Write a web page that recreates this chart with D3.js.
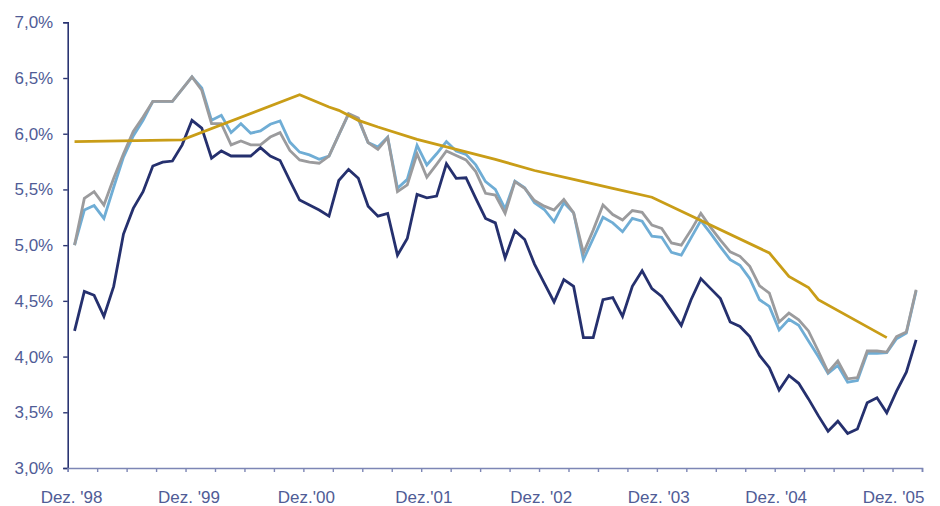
<!DOCTYPE html>
<html>
<head>
<meta charset="utf-8">
<script src="https://cdn.jsdelivr.net/npm/d3@7"></script>
<style>
  html, body { margin: 0; padding: 0; background: #ffffff; }
  svg { display: block; }
</style>
</head>
<body>
<svg id="chart" width="940" height="506"></svg>
<script>
// Monthly observations, Dec 1998 (index 0) to Feb 2006 (index 86)
const monthCount = 87;

const seriesNavy = [
  4.23, 4.585, 4.55, 4.36, 4.63, 5.10, 5.33, 5.48, 5.71, 5.745, 5.755, 5.90,
  6.12, 6.05, 5.78, 5.845, 5.80, 5.80, 5.80, 5.875, 5.80, 5.76, 5.58, 5.405,
  5.36, 5.315, 5.26, 5.58, 5.68, 5.60, 5.35, 5.26, 5.285, 4.91, 5.06, 5.455,
  5.425, 5.44, 5.73, 5.60, 5.605, 5.42, 5.24, 5.20, 4.885, 5.13, 5.05, 4.83,
  4.66, 4.49, 4.69, 4.63, 4.17, 4.17, 4.51, 4.53, 4.36, 4.63, 4.77, 4.61,
  4.54, 4.41, 4.28, 4.51, 4.70, 4.61, 4.52, 4.31, 4.27, 4.18, 4.01, 3.90,
  3.70, 3.83, 3.76, 3.62, 3.47, 3.33, 3.42, 3.31, 3.35, 3.585, 3.63, 3.495,
  3.69, 3.86, 4.15
];

const seriesLightBlue = [
  5.00, 5.315, 5.355, 5.24, 5.52, 5.79, 5.98, 6.12, 6.29, 6.29, 6.29, 6.40,
  6.51, 6.41, 6.12, 6.165, 6.01, 6.09, 6.005, 6.025, 6.085, 6.115, 5.925, 5.835,
  5.81, 5.77, 5.80, 5.99, 6.175, 6.13, 5.92, 5.88, 5.97, 5.51, 5.59, 5.895,
  5.72, 5.82, 5.93, 5.845, 5.815, 5.72, 5.57, 5.50, 5.325, 5.575, 5.515, 5.38,
  5.32, 5.21, 5.38, 5.29, 4.87, 5.06, 5.25, 5.20, 5.12, 5.24, 5.215, 5.08,
  5.07, 4.935, 4.91, 5.065, 5.22, 5.105, 4.985, 4.87, 4.82, 4.70, 4.51, 4.45,
  4.24, 4.335, 4.28, 4.14, 4.00, 3.85, 3.92, 3.77, 3.785, 4.03, 4.03, 4.035,
  4.16, 4.21, 4.59
];

const seriesGray = [
  5.00, 5.42, 5.48, 5.36, 5.60, 5.82, 6.02, 6.15, 6.29, 6.29, 6.29, 6.40,
  6.51, 6.39, 6.09, 6.09, 5.90, 5.935, 5.90, 5.90, 5.97, 6.01, 5.85, 5.765,
  5.745, 5.735, 5.80, 5.99, 6.18, 6.14, 5.92, 5.86, 5.965, 5.48, 5.54, 5.82,
  5.61, 5.725, 5.845, 5.805, 5.765, 5.66, 5.465, 5.45, 5.285, 5.57, 5.51, 5.40,
  5.35, 5.315, 5.41, 5.29, 4.93, 5.135, 5.36, 5.275, 5.225, 5.31, 5.295, 5.18,
  5.15, 5.02, 5.00, 5.135, 5.285, 5.16, 5.045, 4.94, 4.90, 4.81, 4.635, 4.57,
  4.31, 4.39, 4.33, 4.23, 4.05, 3.86, 3.96, 3.80, 3.81, 4.05, 4.05, 4.04,
  4.18, 4.22, 4.60
];

// Gold series only has values at selected months
const goldMonth = [0, 11, 23, 26, 27, 29, 31, 35, 39, 43, 47, 51, 55, 59, 71, 73, 75, 76, 83];
const goldValue = [5.93, 5.945, 6.35, 6.24, 6.21, 6.12, 6.06, 5.95, 5.86, 5.77, 5.67, 5.59, 5.51, 5.43, 4.93, 4.72, 4.62, 4.51, 4.17];

// Axis labels
const yTicks = [3.0, 3.5, 4.0, 4.5, 5.0, 5.5, 6.0, 6.5, 7.0];
const xLabelMonth = [0, 12, 24, 36, 48, 60, 72, 84];
const xLabelText = ["Dez. '98", "Dez. '99", "Dez.'00", "Dez.'01", "Dez. '02", "Dez. '03", "Dez. '04", "Dez. '05"];

const svg = d3.select("#chart");
const plotLeft = 67.7, plotRight = 922, plotTop = 22.3, plotBottom = 468;

const x = d3.scaleLinear().domain([-0.7, monthCount - 0.4]).range([plotLeft, plotRight]);
const y = d3.scaleLinear().domain([3.0, 7.0]).range([plotBottom, plotTop]);

const axisText = "#505c96";
const font = "'Liberation Sans', Arial, sans-serif";

// Y axis
const yAxis = d3.axisLeft(y).tickValues(yTicks).tickSize(4.5).tickPadding(10)
  .tickFormat(d => d3.format(".1f")(d).replace(".", ",") + "%");
const gy = svg.append("g").attr("transform", `translate(${plotLeft},0)`).call(yAxis);
gy.select(".domain").attr("stroke", "#2a3472").attr("stroke-width", 1.6);
gy.selectAll(".tick line").attr("stroke", "#2a3472").attr("stroke-width", 1.4);
gy.selectAll(".tick text").attr("fill", axisText).style("font-family", font).style("font-size", "17px");

// X axis: a tick every quarter
const dom = x.domain();
const quarterTicks = d3.range(30).map(k => dom[0] + k * (dom[1] - dom[0]) / 29);
const xAxis = d3.axisBottom(x).tickValues(quarterTicks).tickSize(4).tickFormat("");
const gx = svg.append("g").attr("transform", `translate(0,${plotBottom})`).call(xAxis);
gx.select(".domain").attr("stroke", "#7d86b5").attr("stroke-width", 1.6);
gx.selectAll(".tick line").attr("stroke", "#7d86b5").attr("stroke-width", 1.4);

svg.append("g").selectAll("text").data(xLabelMonth).join("text")
  .attr("x", d => x(d) - 3)
  .attr("y", 503)
  .attr("text-anchor", "middle")
  .attr("fill", axisText)
  .style("font-family", font)
  .style("font-size", "17px")
  .text((d, i) => xLabelText[i]);

// Lines
const line = d3.line().x(d => x(d[0])).y(d => y(d[1]));
const toPts = arr => arr.map((v, i) => [i, v]);

const plot = svg.append("g").attr("fill", "none").attr("stroke-linejoin", "miter").attr("stroke-width", 2.8);
plot.append("path").attr("d", line(toPts(seriesLightBlue))).attr("stroke", "#6fadd5");
plot.append("path").attr("d", line(toPts(seriesGray))).attr("stroke", "#9b9b9d");
plot.append("path").attr("d", line(toPts(seriesNavy))).attr("stroke", "#25306e");
plot.append("path").attr("d", line(goldMonth.map((m, i) => [m, goldValue[i]]))).attr("stroke", "#c99d17");
</script>
</body>
</html>
